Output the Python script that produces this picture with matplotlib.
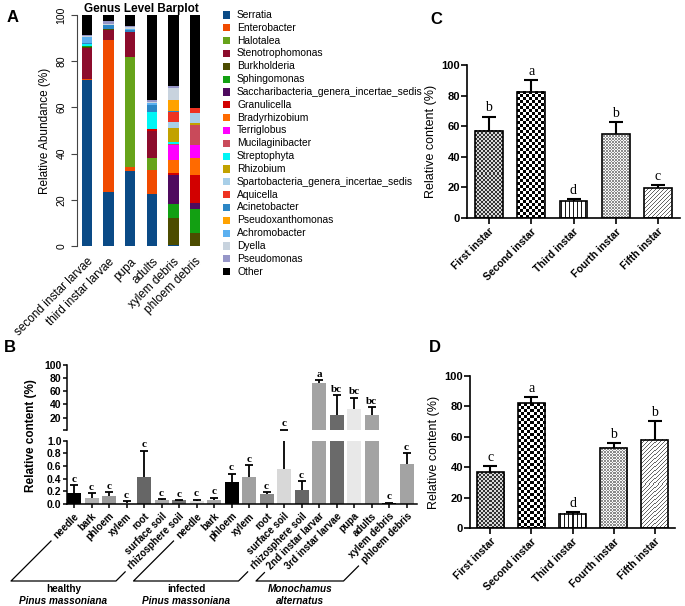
import numpy as np
import matplotlib.pyplot as plt
from matplotlib.patches import Rectangle
from matplotlib.lines import Line2D

plt.rcParams['font.family'] = ['Liberation Sans', 'DejaVu Sans']
SERIF = ['Liberation Serif', 'DejaVu Serif']

W, H = 685, 606

# ---------------- panel A data ----------------
genera = ['Serratia', 'Enterobacter', 'Halotalea', 'Stenotrophomonas', 'Burkholderia',
          'Sphingomonas', 'Saccharibacteria_genera_incertae_sedis', 'Granulicella',
          'Bradyrhizobium', 'Terriglobus', 'Mucilaginibacter', 'Streptophyta', 'Rhizobium',
          'Spartobacteria_genera_incertae_sedis', 'Aquicella', 'Acinetobacter',
          'Pseudoxanthomonas', 'Achromobacter', 'Dyella', 'Pseudomonas', 'Other']
genus_colors = ['#0a4a86', '#f04a00', '#66a31a', '#8c0c2c', '#4c4c00', '#12a012', '#4e0a5e',
                '#d20000', '#ff6a00', '#ff00ff', '#c94a5a', '#00f5f5', '#c2a200', '#a8cfe8',
                '#ee3322', '#2b86c5', '#ffa200', '#5bb0f0', '#c8d3de', '#9696c8', '#000000']
samples = ['second instar larvae', 'third instar larvae', 'pupa', 'adults',
           'xylem debris', 'phloem debris']
# abundance (%) of each genus (legend order, without "Other") per sample
second_instar = [72.0, 0.3, 0.0, 13.2, 0.8, 0.2, 0.0, 0.0, 0.0, 0.0, 0.0, 0.8, 0.0, 0.0, 0.0, 0.7, 0.0, 2.5, 0.3, 0.5]
third_instar = [23.5, 65.7, 0.0, 4.3, 0.5, 0.0, 0.0, 0.0, 0.0, 0.0, 0.0, 0.0, 0.0, 0.0, 0.0, 1.7, 0.0, 0.0, 0.3, 1.5]
pupa = [32.6, 1.7, 47.7, 10.8, 0.0, 0.0, 0.0, 0.0, 0.0, 0.0, 0.0, 0.0, 0.0, 0.0, 0.0, 0.8, 0.0, 0.5, 0.5, 0.5]
adults = [22.6, 10.4, 5.0, 12.0, 0.0, 0.0, 0.0, 0.5, 0.0, 0.0, 0.0, 7.5, 0.0, 0.0, 0.0, 3.2, 0.0, 0.6, 0.7, 0.6]
xylem_debris = [0.6, 0.0, 0.0, 0.0, 11.7, 5.9, 12.5, 1.0, 5.5, 6.4, 0.6, 0.8, 6.2, 2.3, 4.5, 0.3, 4.9, 0.0, 5.2, 1.0]
phloem_debris = [0.2, 0.0, 0.0, 0.0, 5.5, 10.2, 2.6, 12.3, 7.4, 5.5, 8.8, 0.0, 0.6, 4.5, 2.0, 0.0, 0.0, 0.0, 0.0, 0.0]

# ---------------- panel B data ----------------
b_labels = ['needle', 'bark', 'phloem', 'xylem', 'root', 'surface soil', 'rhizosphere soil',
            'needle', 'bark', 'phloem', 'xylem', 'root', 'surface soil', 'rhizosphere soil',
            '2nd instar larvar', '3rd instar larvae', 'pupa', 'adults', 'xylem debris', 'phloem debris']
b_values = [0.17, 0.09, 0.12, 0.02, 0.43, 0.065, 0.06,
            0.04, 0.07, 0.35, 0.43, 0.16, 0.55, 0.22,
            73.0, 24.0, 33.0, 24.0, 0.01, 0.63]
b_errors = [0.13, 0.08, 0.07, 0.02, 0.41, 0.01, 0.003,
            0.03, 0.03, 0.13, 0.18, 0.03, 1.0, 0.14,
            4.0, 30.0, 17.0, 12.0, 0.01, 0.17]
b_letters = ['c'] * 14 + ['a', 'bc', 'bc', 'bc', 'c', 'c']
b_colors = ['#000000', '#b0b0b0', '#999999', '#eeeeee', '#666666', '#aaaaaa', '#777777',
            '#e0e0e0', '#aaaaaa', '#000000', '#a0a0a0', '#888888', '#d8d8d8', '#666666',
            '#a3a3a3', '#6a6a6a', '#e8e8e8', '#a3a3a3', '#000000', '#a3a3a3']
b_groups = [('healthy', 'Pinus massoniana', 0, 6),
            ('infected', 'Pinus massoniana', 7, 13),
            ('', 'Monochamus\nalternatus', 14, 19)]

# ---------------- panels C / D data ----------------
instars = ['First instar', 'Second instar', 'Third instar', 'Fourth instar', 'Fifth instar']
c_values = [57.0, 82.6, 11.1, 54.8, 19.6]
c_errors = [9.3, 7.6, 1.3, 8.0, 2.1]
c_letters = ['b', 'a', 'd', 'b', 'c']
d_values = [36.7, 82.0, 9.5, 52.7, 58.0]
d_errors = [4.2, 4.2, 0.8, 2.9, 12.1]
d_letters = ['c', 'a', 'd', 'b', 'b']
textures = ['fine_check', 'check', 'vlines', 'crossdiag', 'diag']


def rect(l, t, r, b):
    return [l / W, 1 - b / H, (r - l) / W, (b - t) / H]


def texture(kind, h, w):
    i, j = np.mgrid[0:h, 0:w]
    if kind == 'fine_check':
        return np.where(((i // 2) + (j // 2)) % 2 == 0, 0.2, 0.85)
    if kind == 'check':
        return np.where(((i // 3) + (j // 3)) % 2 == 0, 0.0, 1.0)
    if kind == 'vlines':
        return np.where(j % 4 == 1, 0.1, 1.0)
    if kind == 'crossdiag':
        return np.where(((i + j) % 3 == 0) | ((i - j) % 3 == 0), 0.55, 0.97)
    return np.where((i + j) % 4 == 0, 0.4, 1.0)


def upper_errorbars(ax, x, vals, errs, lw, cap, **kw):
    # draw only the upward half of each error bar
    eb = ax.errorbar(x, vals, yerr=[np.zeros(len(vals)), errs], fmt='none', ecolor='black',
                     elinewidth=lw, capsize=cap, capthick=lw, **kw)
    eb[1][0].set_visible(False)
    return eb


fig = plt.figure(figsize=(W / 100, H / 100), dpi=100)

# ================= A =================
axA = fig.add_axes(rect(77, 15, 205, 246))
xa = np.arange(len(samples))
table = np.array([second_instar, third_instar, pupa, adults, xylem_debris, phloem_debris])
bottom = np.zeros(len(samples))
for k, (name, col) in enumerate(zip(genera, genus_colors)):
    vals = table[:, k] if k < table.shape[1] else 100 - table.sum(axis=1)
    axA.bar(xa, vals, 0.47, bottom=bottom, color=col, linewidth=0)
    bottom += vals
axA.set_xlim(-0.45, 5.45)
axA.set_ylim(0, 100)
for s in ('top', 'right', 'bottom'):
    axA.spines[s].set_visible(False)
axA.spines['left'].set_color('#444444')
axA.spines['left'].set_linewidth(0.8)
axA.set_yticks([0, 20, 40, 60, 80, 100])
axA.tick_params(axis='y', labelrotation=90, labelsize=7.5, length=4, width=0.8, color='#444444')
for lab in axA.get_yticklabels():
    lab.set_va('center')
axA.set_xticks(xa, samples, rotation=45, ha='right', rotation_mode='anchor', fontsize=8.5)
axA.tick_params(axis='x', length=0, pad=7)
axA.set_ylabel('Relative Abundance (%)', fontsize=8.5, labelpad=4)
axA.set_title('Genus Level Barplot', fontsize=8.5, fontweight='bold', pad=2)

for i, (name, col) in enumerate(zip(genera, genus_colors)):
    yc = 15 + i * 12.83
    fig.patches.append(Rectangle((223 / W, 1 - (yc + 3.6) / H), 7.3 / W, 7.2 / H,
                                 transform=fig.transFigure, color=col, lw=0))
    fig.text(237 / W, 1 - yc / H, name, fontsize=7.4, va='center', ha='left')

# ================= B =================
axBu = fig.add_axes(rect(67, 365, 417, 430))
axBl = fig.add_axes(rect(67, 440.7, 417, 504))
xb = np.arange(len(b_labels))
b_vals = np.array(b_values)
b_err = np.array(b_errors)
big = b_vals + b_err > 1
# lower (0-1) segment shows every bar, upper segment only what reaches above 1
axBl.bar(xb, b_vals, 0.8, color=b_colors, linewidth=0)
upper_errorbars(axBl, xb, b_vals, b_err, 1.3, 3)
axBu.bar(xb[big], b_vals[big], 0.8, color=np.array(b_colors)[big], linewidth=0)
upper_errorbars(axBu, xb[big], b_vals[big], b_err[big], 1.3, 3)
for ax in (axBu, axBl):
    ax.set_xlim(-0.4, 19.6)
    for s in ('top', 'right'):
        ax.spines[s].set_visible(False)
    for s in ('left', 'bottom'):
        ax.spines[s].set_linewidth(1.1)
    ax.tick_params(axis='y', labelsize=7.5, length=3, width=1.1, pad=1)
axBu.set_ylim(1, 100)
axBu.spines['bottom'].set_visible(False)
axBu.tick_params(axis='x', bottom=False, labelbottom=False)
axBu.set_yticks([1, 20, 40, 60, 80, 100], ['', '20', '40', '60', '80', '100'])
axBl.set_ylim(0, 1)
axBl.set_yticks([0, 0.2, 0.4, 0.6, 0.8, 1.0], ['0.0', '0.2', '0.4', '0.6', '0.8', '1.0'])
for ax in (axBu, axBl):
    for lab in ax.get_yticklabels():
        lab.set_fontweight('bold')
axBl.set_xticks(xb, b_labels, rotation=45, ha='right', rotation_mode='anchor',
                fontsize=7, fontweight='bold')
axBl.tick_params(axis='x', length=3, width=1.1, pad=2)
for xi, v, e, let in zip(xb, b_vals, b_err, b_letters):
    ax = axBu if v + e > 1 else axBl
    ax.annotate(let, (xi, v + e), xytext=(0, 1), textcoords='offset points', ha='center',
                va='bottom', fontsize=8, fontweight='bold', family=SERIF, annotation_clip=False)
fig.text(31 / W, 1 - 436 / H, 'Relative content (%)', rotation=90, fontsize=8.5,
         fontweight='bold', ha='center', va='center')


# ================= C / D =================
def instar_panel(ax, vals, errs, letters, half):
    x = np.arange(len(instars))
    bars = ax.bar(x, vals, 0.66, facecolor='none', edgecolor='black', linewidth=1.2, zorder=3)
    upper_errorbars(ax, x, vals, errs, 1.5, 5, zorder=4)
    ax.set_xlim(-half, 4 + half)
    ax.set_ylim(0, 100)
    for bar, kind in zip(bars, textures):
        bb = bar.get_window_extent()
        arr = texture(kind, max(int(round(bb.height)), 1), max(int(round(bb.width)), 1))
        ax.imshow(arr, cmap='gray', vmin=0, vmax=1, aspect='auto', interpolation='nearest',
                  extent=(bar.get_x(), bar.get_x() + bar.get_width(), 0, bar.get_height()),
                  clip_path=bar, zorder=2)
    ax.set_xlim(-half, 4 + half)
    ax.set_ylim(0, 100)
    for s in ('top', 'right'):
        ax.spines[s].set_visible(False)
    for s in ('left', 'bottom'):
        ax.spines[s].set_linewidth(1.2)
    ax.set_yticks([0, 20, 40, 60, 80, 100])
    for lab in ax.get_yticklabels():
        lab.set_fontweight('bold')
    ax.tick_params(axis='y', labelsize=8, length=4, width=1.2, pad=1)
    ax.set_xticks(x, instars, rotation=45, ha='right', rotation_mode='anchor',
                  fontsize=7.5, fontweight='bold')
    ax.tick_params(axis='x', length=4, width=1.2, pad=2)
    ax.set_ylabel('Relative content (%)', fontsize=9, labelpad=3)
    for xi, v, e, let in zip(x, vals, errs, letters):
        ax.annotate(let, (xi, v + e), xytext=(0, 1.5), textcoords='offset points', ha='center',
                    va='bottom', fontsize=10, family=SERIF)


axC = fig.add_axes(rect(467, 65, 680, 218))
instar_panel(axC, c_values, c_errors, c_letters, 0.52)
axD = fig.add_axes(rect(470, 376, 675, 528))
instar_panel(axD, d_values, d_errors, d_letters, 0.49)

# panel letters
for let, (px, py) in zip('ABCD', [(13, 18), (10, 348), (436, 19), (435, 348)]):
    fig.text(px / W, 1 - py / H, let, fontsize=12, fontweight='bold', ha='center', va='center')

# ---------------- group brackets under panel B ----------------
fig.canvas.draw()
renderer = fig.canvas.get_renderer()
labs = axBl.get_xticklabels()
ybase = H - 581
for top, bottom_txt, i0, i1 in b_groups:
    b0 = labs[i0].get_window_extent(renderer)
    b1 = labs[i1].get_window_extent(renderer)
    p0 = (b0.x0 - 1, b0.y0 - 1)
    p1 = (b1.x0 - 1, b1.y0 - 1)
    q0 = (p0[0] - (p0[1] - ybase), ybase)
    q1 = (p1[0] - (p1[1] - ybase), ybase)
    xs = [p0[0], q0[0], q1[0], p1[0]]
    ys = [p0[1], q0[1], q1[1], p1[1]]
    fig.add_artist(Line2D([v / W for v in xs], [v / H for v in ys], transform=fig.transFigure,
                          color='black', lw=0.9))
    xc = (q0[0] + q1[0]) / 2
    if top:
        fig.text(xc / W, (ybase - 3) / H, top, fontsize=7.2, fontweight='bold', ha='center', va='top')
        fig.text(xc / W, (ybase - 14.5) / H, bottom_txt, fontsize=7.2, fontweight='bold',
                 style='italic', ha='center', va='top')
    else:
        fig.text(xc / W, (ybase - 3) / H, bottom_txt, fontsize=7.2, fontweight='bold',
                 style='italic', ha='center', va='top', linespacing=1.2)

fig.savefig('out.png', dpi=100)
